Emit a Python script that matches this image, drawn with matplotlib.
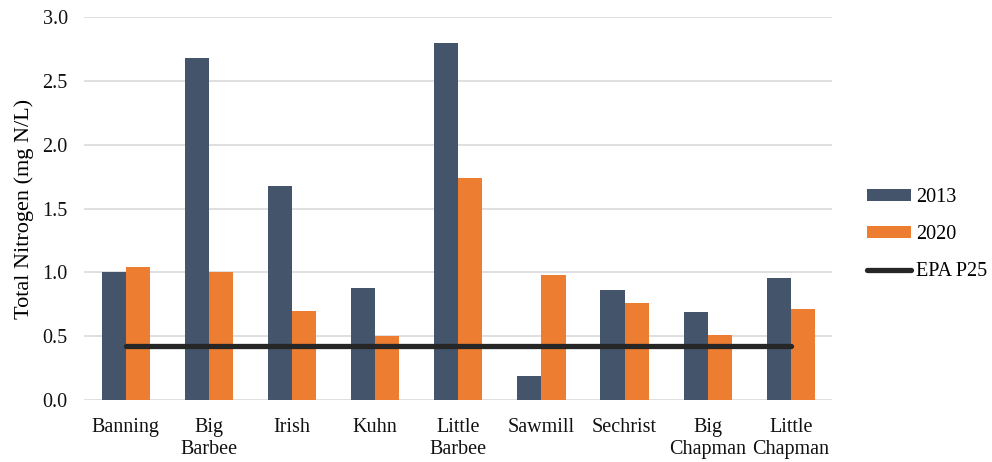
import numpy as np
from matplotlib import pyplot as plt

plt.rcParams['font.family'] = ['Liberation Serif', 'DejaVu Serif']

sites = ["Banning", "Big\nBarbee", "Irish", "Kuhn", "Little\nBarbee",
         "Sawmill", "Sechrist", "Big\nChapman", "Little\nChapman"]
tn_2013 = [1.00, 2.68, 1.68, 0.88, 2.80, 0.19, 0.86, 0.69, 0.96]
tn_2020 = [1.04, 1.00, 0.70, 0.50, 1.74, 0.98, 0.76, 0.51, 0.71]
epa_p25 = [0.42] * len(sites)

x = np.arange(len(sites))
w = 0.29

fig = plt.figure(figsize=(9.92, 4.62), dpi=100)
ax = fig.add_axes([0.085, 0.134, 0.754, 0.829])

b1 = ax.bar(x - w/2, tn_2013, w, color="#44546A", label="2013", zorder=2)
b2 = ax.bar(x + w/2, tn_2020, w, color="#ED7D31", label="2020", zorder=2)
ln, = ax.plot(x, epa_p25, color="#262626", lw=3.8, solid_capstyle="round",
              label="EPA P25", zorder=3)

ax.set_xlim(-0.5, len(sites) - 0.5)
ax.set_ylim(0, 3.0)
ax.set_yticks(np.arange(0, 3.01, 0.5))
ax.set_yticklabels([f"{v:.1f}" for v in np.arange(0, 3.01, 0.5)])
ax.set_xticks(x)
ax.set_xticklabels(sites, linespacing=1.2)
ax.yaxis.grid(True, color="#d9d9d9", lw=1.2, zorder=0)
ax.set_axisbelow(True)
for s in ax.spines.values():
    s.set_visible(False)
ax.tick_params(length=0, labelsize=14.5, colors="#111111")
ax.tick_params(axis="x", pad=13)
ax.tick_params(axis="y", pad=12)
ax.set_ylabel("Total Nitrogen (mg N/L)", fontsize=16, labelpad=6)

ax.legend([b1, b2, ln], ["2013", "2020", "EPA P25"],
          loc="center left", bbox_to_anchor=(1.035, 0.432), frameon=False,
          borderaxespad=0, fontsize=14.5, handlelength=2.2, handleheight=0.5,
          labelspacing=0.9, handletextpad=0.25)

fig.savefig("out.png", dpi=100)
